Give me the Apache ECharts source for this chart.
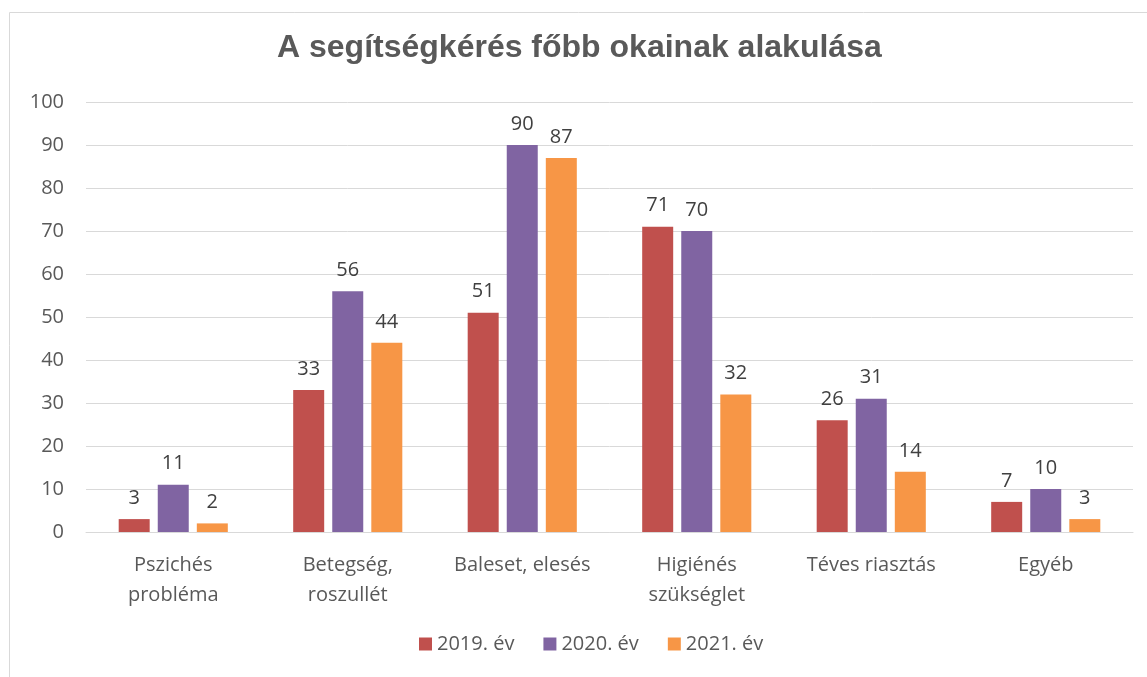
<!DOCTYPE html>
<html>
<head>
<meta charset="utf-8">
<script src="https://cdn.jsdelivr.net/npm/echarts@6/dist/echarts.min.js"></script>
<style>
  html, body { margin: 0; padding: 0; background: #fff; }
  #main { width: 1147px; height: 677px; }
</style>
</head>
<body>
<div id="main"></div>
<script>
  // okok (kategóriák) és évek szerinti esetszámok
  var categories = ['Pszichés\nprobléma', 'Betegség,\nroszullét', 'Baleset, elesés', 'Higiénés\nszükséglet', 'Téves riasztás', 'Egyéb'];
  var years = ['2019. év', '2020. év', '2021. év'];
  var values2019 = [3, 33, 51, 71, 26, 7];
  var values2020 = [11, 56, 90, 70, 31, 10];
  var values2021 = [2, 44, 87, 32, 14, 3];
  var colors = ['#C0504D', '#8064A2', '#F79646'];
  var yTicks = { min: 0, max: 100, interval: 10 };

  var labelFont = '"Open Sans", "Liberation Sans", sans-serif';

  function makeSeries(name, data, color) {
    return {
      name: name,
      type: 'bar',
      data: data,
      barWidth: 31,
      barGap: '26%',
      itemStyle: { color: color },
      label: {
        show: true,
        position: 'top',
        distance: 11,
        color: '#404040',
        fontSize: 20,
        fontFamily: labelFont
      }
    };
  }

  var chart = echarts.init(document.getElementById('main'));
  chart.setOption({
    animation: false,
    title: {
      text: 'A segítségkérés főbb okainak alakulása',
      left: 272,
      top: 27,
      textStyle: {
        fontFamily: '"Liberation Sans", Arial, sans-serif',
        fontSize: 32,
        fontWeight: 'bold',
        color: '#595959'
      }
    },
    graphic: [{
      type: 'rect',
      shape: { x: 9.5, y: 12.5, width: 1160, height: 700 },
      style: { fill: 'none', stroke: '#d9d9d9', lineWidth: 1 },
      silent: true,
      z: -1
    }],
    legend: {
      bottom: 18,
      left: 414,
      itemWidth: 13,
      itemHeight: 13,
      itemGap: 29,
      icon: 'rect',
      textStyle: { fontSize: 20, color: '#595959', fontFamily: labelFont },
      data: years
    },
    grid: { left: 86, right: 14, top: 102, bottom: 145 },
    xAxis: {
      type: 'category',
      data: categories,
      axisTick: { show: false },
      axisLine: { lineStyle: { color: '#d9d9d9', width: 1 } },
      axisLabel: {
        interval: 0,
        margin: 18,
        color: '#595959',
        fontSize: 20,
        lineHeight: 30,
        fontFamily: labelFont
      }
    },
    yAxis: {
      type: 'value',
      min: yTicks.min,
      max: yTicks.max,
      interval: yTicks.interval,
      axisLine: { show: false },
      axisTick: { show: false },
      splitLine: { lineStyle: { color: '#d9d9d9', width: 1 } },
      axisLabel: { margin: 22, color: '#595959', fontSize: 20, fontFamily: labelFont }
    },
    series: [
      makeSeries(years[0], values2019, colors[0]),
      makeSeries(years[1], values2020, colors[1]),
      makeSeries(years[2], values2021, colors[2])
    ]
  });
</script>
</body>
</html>
